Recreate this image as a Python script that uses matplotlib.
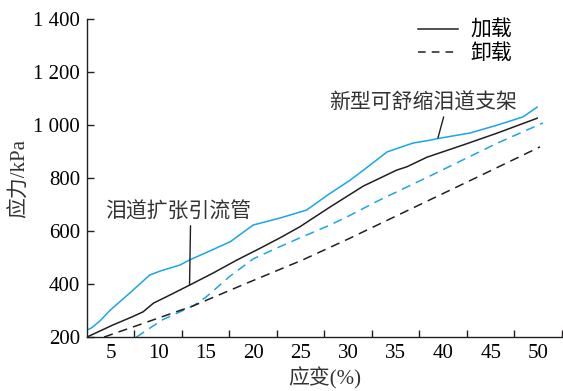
import matplotlib
matplotlib.use('Agg')
import matplotlib.pyplot as plt
from matplotlib.lines import Line2D

# 新型可舒缩泪道支架 (blue) / 泪道扩张引流管 (black)
new_load_x = [2.5, 3.0, 3.9, 4.9, 7.0, 9.1, 10.2, 12.3, 13.3, 15.5, 17.6, 20.0, 22.8,
              25.6, 28.0, 30.2, 31.9, 34.1, 36.8, 38.6, 39.7, 42.8, 45.7, 48.4, 49.9]
new_load_y = [226, 235, 262, 300, 366, 434, 449, 472, 491, 526, 560, 623, 649,
              679, 740, 792, 838, 899, 932, 943, 951, 970, 1000, 1031, 1068]
new_unload_x = [7.7, 10.5, 13.7, 15.0, 17.5, 20.0, 22.8, 24.9, 28.1, 29.9, 33.3, 38.5, 45.7, 50.5]
new_unload_y = [200, 266, 318, 350, 428, 495, 541, 574, 623, 654, 717, 806, 932, 1008]

old_load_x = [2.5, 5.2, 7.3, 8.4, 9.5, 11.2, 13.3, 15.8, 18.3, 20.5, 22.8, 24.9,
              28.1, 31.6, 35.1, 36.2, 38.3, 42.1, 45.7, 49.9]
old_load_y = [200, 245, 277, 295, 328, 358, 396, 442, 491, 531, 574, 616,
              691, 770, 830, 843, 879, 925, 970, 1026]
old_unload_x = [4.3, 7.5, 10.2, 13.7, 19.3, 25.2, 30.0, 36.8, 43.5, 50.2]
old_unload_y = [200, 240, 274, 318, 403, 491, 570, 687, 802, 918]

x_labels = [5, 10, 15, 20, 25, 30, 35, 40, 45, 50]
y_ticks = [200, 400, 600, 800, 1000, 1200, 1400]
y_labels = ['200', '400', '600', '800', '1 000', '1 200', '1 400']

blue = '#1aa6e6'
black = '#231f20'
cjk = ['Noto Sans CJK SC', 'DejaVu Sans']
mixed = ['Liberation Serif', 'Noto Sans CJK SC']

fig = plt.figure(figsize=(5.63, 3.91), dpi=100)
ax = fig.add_axes([0.1545, 0.138, 0.8435, 0.813])

ax.plot(new_load_x, new_load_y, color=blue, lw=1.1)
ax.plot(new_unload_x, new_unload_y, color=blue, lw=1.1, dashes=(6, 4))
ax.plot(old_load_x, old_load_y, color=black, lw=1.1)
ax.plot(old_unload_x, old_unload_y, color=black, lw=1.1, dashes=(6, 4))

ax.set_xlim(2.5, 52.5)
ax.set_ylim(200, 1400)
for s in ['top', 'right']:
    ax.spines[s].set_visible(False)
for s in ['left', 'bottom']:
    ax.spines[s].set_linewidth(1.0)
    ax.spines[s].set_color(black)

# labels sit in the middle of each 5 % bin, marks at bin edges
ax.set_xticks([v + 2.5 for v in x_labels])
ax.set_xticklabels([])
ax.set_xticks(x_labels, minor=True)
ax.set_xticklabels([str(v) for v in x_labels], minor=True, family='Liberation Serif', fontsize=15)
ax.tick_params(axis='x', which='major', direction='in', length=5, width=1.0, color=black)
ax.tick_params(axis='x', which='minor', length=0, pad=5)
ax.set_yticks(y_ticks)
ax.set_yticklabels(y_labels, family='Liberation Serif', fontsize=15)
ax.tick_params(axis='y', direction='in', length=5, width=1.0, color=black, pad=5)

ax.set_xlabel('应变(%)', family=mixed, fontsize=15, labelpad=3, color='#333333')
ax.set_ylabel('应力/kPa', family=mixed, fontsize=15, labelpad=2, color='#333333')

handles = [Line2D([], [], color=black, lw=1.1),
           Line2D([], [], color=black, lw=1.1, dashes=(5, 4))]
ax.legend(handles, ['加载', '卸载'], loc='upper right', bbox_to_anchor=(0.935, 1.06),
          frameon=False, handlelength=1.9, handletextpad=0.6, labelspacing=0.05,
          prop={'family': cjk, 'size': 15})

ax.annotate('泪道扩张引流管', xy=(13.3, 396), xytext=(12.1, 672), ha='center', va='center',
            family=cjk, fontsize=15, color='#333333',
            arrowprops=dict(arrowstyle='-', color=black, lw=1.0, shrinkA=0, shrinkB=0,
                            relpos=(0.585, 0.1)))
ax.annotate('新型可舒缩泪道支架', xy=(39.45, 951), xytext=(37.9, 1083), ha='center', va='center',
            family=cjk, fontsize=15, color='#333333',
            arrowprops=dict(arrowstyle='-', color=black, lw=1.0, shrinkA=0, shrinkB=0,
                            relpos=(0.616, 0.1)))

fig.savefig('out.png', dpi=100)
